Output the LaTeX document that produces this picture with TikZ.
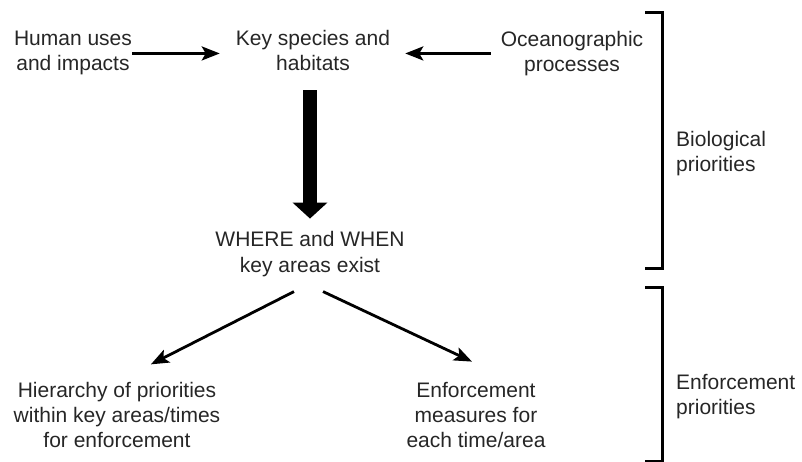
\documentclass[tikz,border=0pt]{standalone}
\usepackage{fontspec}
\setmainfont{Liberation Sans}
\usetikzlibrary{arrows.meta}

\begin{document}
\begin{tikzpicture}[x=1pt,y=-1pt,
  txt/.style={align=center,inner sep=0pt,text=black!85,font=\fontsize{21}{25}\selectfont},
  arr/.style={line width=2.8pt,-{Stealth[length=18pt,width=14pt,inset=4pt]}},
  bigarr/.style={line width=14pt,-{Triangle[length=16pt,width=34pt]}},
  brk/.style={line width=3pt}]

\useasboundingbox (0,0) rectangle (802,462);

% 上面一行
\node[txt,anchor=base] (human) at (73,71) {Human uses\\and impacts};
\node[txt,anchor=base] (key) at (313,71) {Key species and\\habitats};
\node[txt,anchor=base] (ocean) at (572,72) {Oceanographic\\processes};
\draw[arr,shorten >=16pt] (human.east) -- (human.east -| key.west);
\draw[arr,shorten <=10pt,shorten >=15pt] (ocean.west |- human.east) -- (human.east -| key.east);

% 粗箭头
\node[txt,anchor=base] (where) at (310,272) {WHERE and WHEN\\key areas exist};
\draw[bigarr,shorten <=19pt,shorten >=13pt] (key.south -| where.north) -- (where.north);

% 下面两个
\node[txt,anchor=base] (hier) at (117,447) {Hierarchy of priorities\\within key areas/times\\for enforcement};
\node[txt,anchor=base] (enf) at (476,447) {Enforcement\\measures for\\each time/area};
\coordinate (wl) at ([xshift=-16pt,yshift=-15pt]where.south);
\coordinate (wr) at ([xshift=13pt,yshift=-15pt]where.south);
\draw[arr,shorten >=38pt] (wl) -- (hier.north);
\draw[arr] (wr) -- ([xshift=-4pt,yshift=20pt]enf.north);

% 右边括号
\draw[brk] (645,13) -- (662,13) -- (662,268) -- (645,268);
\draw[brk] (645,287) -- (662,287) -- (662,461) -- (645,461);
\node[txt,anchor=base west,align=left] (bio) at (676,172) {Biological\\priorities};
\node[txt,anchor=base west,align=left] (enfp) at (676,414) {Enforcement\\priorities};

\end{tikzpicture}
\end{document}
